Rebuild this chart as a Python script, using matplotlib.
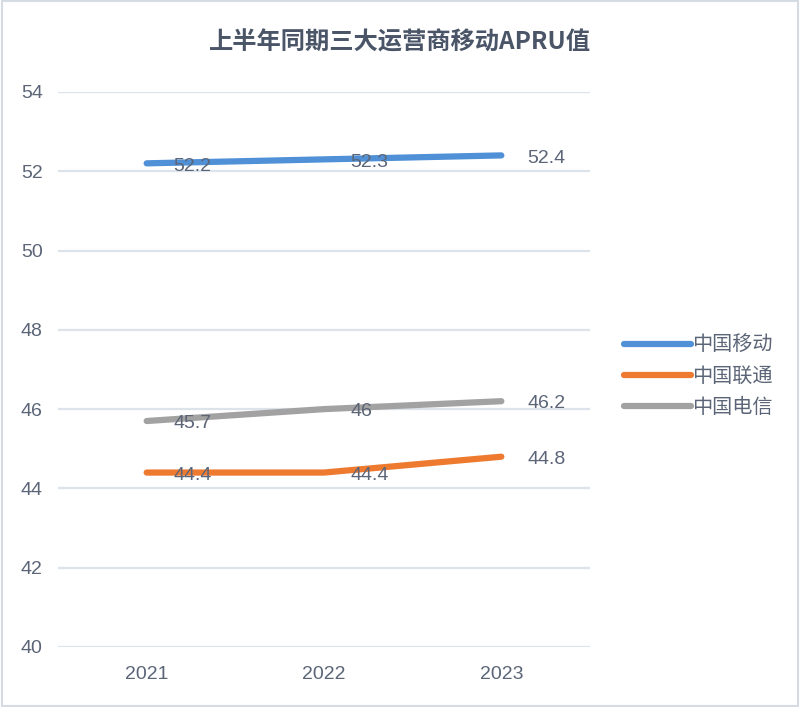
import matplotlib
matplotlib.use("Agg")
import matplotlib.pyplot as plt
from matplotlib.patches import Rectangle

plt.rcParams['font.family'] = ['Liberation Sans', 'Noto Sans CJK SC', 'DejaVu Sans']

years = ['2021', '2022', '2023']
series_names = ['中国移动', '中国联通', '中国电信']
mobile = [52.2, 52.3, 52.4]
unicom = [44.4, 44.4, 44.8]
telecom = [45.7, 46, 46.2]
value_labels = {
    '中国移动': ['52.2', '52.3', '52.4'],
    '中国联通': ['44.4', '44.4', '44.8'],
    '中国电信': ['45.7', '46', '46.2'],
}
yticks = [40, 42, 44, 46, 48, 50, 52, 54]
title = '上半年同期三大运营商移动APRU值'

colors = ['#4f90d6', '#ee7a30', '#a2a2a2']
text_color = '#5b6577'

fig = plt.figure(figsize=(8.0, 7.07), dpi=100)
fig.patch.set_facecolor('white')
fig.add_artist(Rectangle((0.002, 0.002), 0.996, 0.996, transform=fig.transFigure,
                         fill=False, edgecolor='#d5dbe3', linewidth=1.5))

ax = fig.add_axes([0.0725, 0.0849, 0.665, 0.785])
x = list(range(len(years)))
for name, vals, c in zip(series_names, [mobile, unicom, telecom], colors):
    ax.plot(x, vals, color=c, linewidth=4.5, solid_capstyle='round', label=name, zorder=3)
    for xi, v, lab in zip(x, vals, value_labels[name]):
        ax.annotate(lab, (xi, v), xytext=(19, -2), textcoords='offset points',
                    ha='left', va='center', fontsize=14, color=text_color, zorder=4)

ax.set_xlim(-0.5, 2.5)
ax.set_ylim(40, 54)
ax.set_yticks(yticks)
ax.set_yticklabels([str(t) for t in yticks])
ax.set_xticks(x)
ax.set_xticklabels(years)
ax.tick_params(axis='both', length=0, labelsize=14, labelcolor=text_color)
ax.tick_params(axis='y', pad=11)
ax.tick_params(axis='x', pad=14)
ax.grid(axis='y', color='#dde3ea', linewidth=1.6, zorder=0)
for s in ax.spines.values():
    s.set_visible(False)

leg = ax.legend(loc='center left', bbox_to_anchor=(1.03, 0.487), frameon=False,
                handlelength=3.3, handletextpad=0.05, labelspacing=0.5,
                prop={'family': ['Noto Sans CJK SC'], 'size': 14.5})
for t in leg.get_texts():
    t.set_color(text_color)

fig.text(0.5, 0.94, title, ha='center', va='center', fontsize=17.5, fontweight='bold',
         color='#4a5568', family=['Noto Sans CJK SC', 'DejaVu Sans'])

fig.savefig('out.png', dpi=100)
